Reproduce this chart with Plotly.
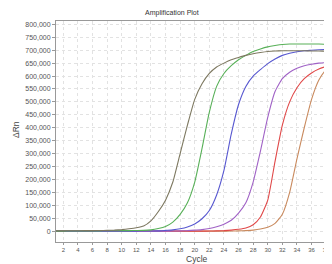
import plotly.graph_objects as go

cycles = list(range(1, 41))

olive = [1000, 1000, 1500, 1500, 2000, 2000, 2500, 3000, 4000, 6000,
         9000, 13000, 20000, 40000, 75000, 120000, 190000, 300000, 410000, 510000,
         570000, 610000, 635000, 650000, 663000, 672000, 680000, 686000, 691000, 695000,
         697000, 698000, 698000, 698000, 698000, 697000, 697000, 696000, 696000, 696000]
green = [0, 0, 500, 500, 1000, 1000, 1000, 1500, 1500, 2000,
         2000, 2500, 3000, 5000, 10000, 18000, 35000, 65000, 110000, 190000,
         320000, 460000, 560000, 610000, 640000, 663000, 680000, 695000, 705000, 713000,
         718000, 722000, 724000, 724000, 724000, 724000, 724000, 722000, 718000, 715000]
blue = [0, 0, 0, 0, 0, 0, 0, 0, 0, 0,
        0, 0, 500, 500, 1000, 3000, 5000, 9000, 16000, 28000,
        48000, 80000, 140000, 235000, 375000, 490000, 560000, 600000, 625000, 648000,
        666000, 680000, 688000, 694000, 698000, 700000, 702000, 703000, 703000, 703000]
purple = [0, 0, 0, 0, 0, 0, 0, 0, 0, 0,
          0, 0, 0, 0, 0, 0, 500, 1000, 2000, 4000,
          6000, 10000, 17000, 27000, 42000, 70000, 110000, 190000, 310000, 440000,
          540000, 590000, 615000, 630000, 640000, 646000, 650000, 652000, 653000, 654000]
red = [0, 0, 0, 0, 0, 0, 0, 0, 0, 0,
       0, 0, 0, 0, 0, 0, 0, 0, 0, 0,
       0, 500, 1000, 2000, 4000, 7000, 12000, 25000, 55000, 120000,
       270000, 410000, 500000, 555000, 590000, 612000, 627000, 637000, 645000, 650000]
brown = [0, 0, 0, 0, 0, 0, 0, 0, 0, 0,
         0, 0, 0, 0, 0, 0, 0, 0, 0, 0,
         0, 0, 0, 0, 500, 1000, 2000, 4000, 8000, 15000,
         30000, 65000, 150000, 280000, 400000, 510000, 585000, 625000, 648000, 660000]

series = [
    ("Sample 1", olive, "#7d7860"),
    ("Sample 2", green, "#58b058"),
    ("Sample 3", blue, "#5858d0"),
    ("Sample 4", purple, "#a062c6"),
    ("Sample 5", red, "#e04848"),
    ("Sample 6", brown, "#c98a5e"),
]

fig = go.Figure()
for name, vals, col in reversed(series):
    fig.add_trace(go.Scatter(x=cycles, y=vals, mode="lines", name=name,
                             line=dict(color=col, width=1.1, shape="spline", smoothing=0.5),
                             showlegend=False))

fig.update_layout(
    width=324, height=256,
    margin=dict(l=48, r=0, t=13, b=22),
    paper_bgcolor="white", plot_bgcolor="white",
    font=dict(family="Liberation Sans, Arial, sans-serif", color="#444"),
    xaxis=dict(range=[1, 38.8], tickmode="linear", tick0=2, dtick=2,
               tickfont=dict(size=6, color="#555"),
               showgrid=True, gridcolor="#e2e2e2", griddash="dot", gridwidth=1,
               showline=True, linecolor="#999", linewidth=1, mirror=True,
               ticks="outside", ticklen=2, tickcolor="#999", zeroline=False),
    yaxis=dict(range=[-42000, 813000], tickmode="linear", tick0=0, dtick=50000,
               tickformat=",", tickfont=dict(size=7, color="#555"),
               showgrid=True, gridcolor="#e2e2e2", griddash="dot", gridwidth=1,
               showline=True, linecolor="#999", linewidth=1,
               ticks="outside", ticklen=3, tickcolor="#999", zeroline=False),
    annotations=[
        dict(text="Amplification Plot", xref="paper", yref="paper", x=(172 - 56) / 276, y=1 + 8 / 221,
             xanchor="center", yanchor="middle", showarrow=False,
             font=dict(size=7, color="#333")),
        dict(text="Cycle", xref="paper", yref="paper", x=(197 - 56) / 276, y=-17 / 221,
             xanchor="center", yanchor="middle", showarrow=False,
             font=dict(size=8.5, color="#444")),
        dict(text="ΔRn", xref="paper", yref="paper", x=-40 / 276, y=(242 - 130) / 221,
             xanchor="center", yanchor="middle", showarrow=False, textangle=-90,
             font=dict(size=8.5, color="#444")),
    ],
)

fig.write_html("out.html")
